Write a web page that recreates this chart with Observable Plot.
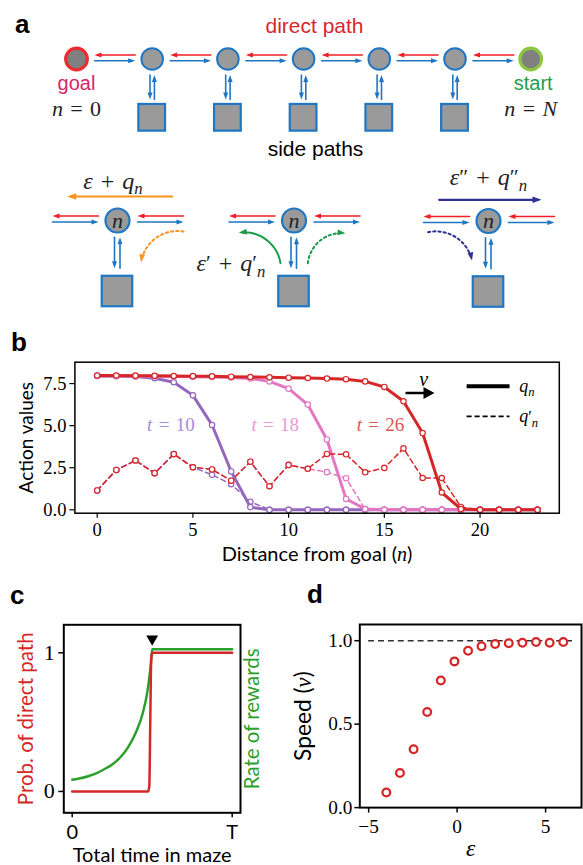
<!DOCTYPE html>
<html><head><meta charset="utf-8">
<script src="https://cdn.jsdelivr.net/npm/d3@7"></script>
<script src="https://cdn.jsdelivr.net/npm/@observablehq/plot@0.6"></script>
<style>
html,body{margin:0;padding:0;background:#fff;overflow:hidden;}
#root{position:relative;width:583px;height:865px;overflow:hidden;background:#fff;}
.panel{position:absolute;}
.plabel{position:absolute;font:bold 26px "Liberation Sans",Arial,sans-serif;line-height:26px;color:#000;}
</style></head><body><div id="root"></div>
<script>
// ================= DATA =================
// Panel a: maze schematic
const chainNodes = ["goal", "s1", "s2", "s3", "s4", "s5", "start"];
const sideNodes = ["s1", "s2", "s3", "s4", "s5"];
const endLabels = [{node: "goal", name: "goal", eq: "$n = 0$"}, {node: "start", name: "start", eq: "$n = N$"}];
const motifNames = ["explore", "return", "leave"];
const motifLabels = ["$ε + q_n$", "$ε^′ + q^′_n$", "$ε^″ + q^″_n$"];

// Panel b: action values vs distance from goal
const distance = [0,1,2,3,4,5,6,7,8,9,10,11,12,13,14,15,16,17,18,19,20,21,22,23];
const qT10  = [7.95,7.94,7.92,7.82,7.58,6.8,5.04,2.28,0.16,0,0,0,0,0,0,0,0,0,0,0,0,0,0,0];
const qT18  = [7.96,7.95,7.94,7.93,7.92,7.91,7.89,7.86,7.8,7.63,7.2,6.25,4.18,0.65,0.05,0,0,0,0,0,0,0,0,0];
const qT26  = [7.98,7.98,7.97,7.96,7.95,7.94,7.93,7.91,7.89,7.87,7.85,7.83,7.8,7.76,7.63,7.3,6.45,4.56,1.03,0.05,0,0,0,0];
const qpT10 = [1.15,2.37,2.93,2.18,3.31,2.53,2.08,1.52,0.48,0,0,0,0,0,0,0,0,0,0,0,0,0,0,0];
const qpT18 = [1.15,2.37,2.93,2.18,3.31,2.53,2.4,1.73,2.86,1.4,2.67,2.44,2.24,1.88,0.04,0,0,0,0,0,0,0,0,0];
const qpT26 = [1.15,2.37,2.93,2.18,3.31,2.53,2.4,1.73,2.86,1.4,2.67,2.44,3.32,3.3,2.23,2.49,3.65,1.89,1.89,0.17,0,0,0,0];
const timeLabels = ["$t = 10$", "$t = 18$", "$t = 26$"];
const xTicksB = [0, 5, 10, 15, 20];
const yTicksB = [0, 2.5, 5, 7.5];

// Panel c: probability of direct path / rate of rewards over time
const probTime = [0, 0.475, 0.482, 0.488, 0.494, 0.5, 1.0];
const probDirect = [0, 0, 0.04, 0.5, 0.96, 1.0, 1.0];
const rateTime = [0, 0.05, 0.1, 0.15, 0.2, 0.25, 0.3, 0.35, 0.4, 0.44, 0.47, 0.485, 0.495, 0.5, 1.0];
const rewardRate = [0.085, 0.095, 0.11, 0.13, 0.16, 0.195, 0.245, 0.32, 0.43, 0.56, 0.72, 0.85, 0.96, 1.025, 1.025];
const switchTime = [0.5];
const xTicksC = [0, 1];
const xTickLabelsC = ["0", "T"];
const yTicksC = [0, 1];

// Panel d: speed vs epsilon
const epsilon = [-4, -3.23, -2.46, -1.69, -0.92, -0.15, 0.62, 1.38, 2.15, 2.92, 3.69, 4.46, 5.23, 6.0];
const speed = [0.091, 0.207, 0.35, 0.573, 0.761, 0.876, 0.94, 0.967, 0.98, 0.985, 0.988, 0.992, 0.988, 0.992];
const xTicksD = [-5, 0, 5];
const yTicksD = [0, 0.5, 1];

// ================= STYLE / HELPERS =================
const SERIF = '"Liberation Serif","DejaVu Serif",serif';
const SANS = 'Lato,"Open Sans",sans-serif';
const ARIAL = '"Liberation Sans",Arial,sans-serif';
const BLUE = "#1f77c4", RED_A = "#ee1f26";
const root = document.getElementById("root");
function place(node, left, top) {
  const d = document.createElement("div");
  d.className = "panel"; d.style.left = left + "px"; d.style.top = top + "px";
  d.appendChild(node); root.appendChild(d); return node;
}
function letter(ch, left, baseline) {
  const d = document.createElement("div");
  d.className = "plabel"; d.textContent = ch;
  d.style.left = left + "px"; d.style.top = (baseline - 22) + "px";
  root.appendChild(d);
}
function mathSegs(s) {
  const out = [];
  for (let i = 0; i < s.length;) {
    const c = s[i];
    if (c === "^") { const sup = s[i + 1]; i += 2; let sub = null; if (s[i] === "_") { sub = s[i + 1]; i += 2; } out.push({kind: "sup", t: sup, sub}); }
    else if (c === "_") { out.push({kind: "sub", t: s[i + 1]}); i += 2; }
    else { out.push({kind: "base", t: c === " " ? "\u2004" : c}); i++; }
  }
  return out;
}
function richAll(svg) {
  svg.querySelectorAll("text").forEach(el => {
    const raw = el.textContent;
    if (!raw.includes("$")) return;
    const fs = parseFloat(getComputedStyle(el).fontSize);
    el.textContent = "";
    let cur = 0;
    const add = (txt, attrs, off) => {
      const ts = document.createElementNS("http://www.w3.org/2000/svg", "tspan");
      ts.textContent = txt;
      for (const [k, v] of Object.entries(attrs)) if (v != null) ts.setAttribute(k, v);
      if (Math.abs(off - cur) > 1e-6) { ts.setAttribute("dy", (off - cur).toFixed(2)); cur = off; }
      el.appendChild(ts);
    };
    raw.split("$").forEach((part, k) => {
      if (!part) return;
      if (k % 2 === 0) { add(part, {}, 0); return; }
      for (const g of mathSegs(part)) {
        const st = /[A-Za-z\u03b5]/.test(g.t) ? "italic" : "normal";
        const base = {"font-family": SERIF, "font-style": st};
        if (g.kind === "base") add(g.t, base, 0);
        else if (g.kind === "sub") add(g.t, {...base, "font-size": (fs * 0.7).toFixed(2)}, fs * 0.22);
        else {
          const prime = /[\u2032\u2033]/.test(g.t);
          add(g.t, {...base, "font-style": "normal", "font-size": (fs * (prime ? 0.9 : 0.7)).toFixed(2)}, prime ? -fs * 0.02 : -fs * 0.38);
          if (g.sub) {
            const sst = /[A-Za-z]/.test(g.sub) ? "italic" : "normal";
            add(g.sub, {"font-family": SERIF, "font-style": sst, "font-size": (fs * 0.7).toFixed(2)}, fs * 0.25);
          }
        }
      }
    });
  });
}
const headSym = ratio => ({draw(ctx, size) {
  const L = Math.sqrt(size / Math.PI) * 2, w = L * ratio;
  ctx.moveTo(0, 0); ctx.lineTo(w, L); ctx.lineTo(-w, L); ctx.closePath();
}});
const STYLE = {background: "transparent", overflow: "visible", color: "black"};

// ================= PANEL A =================
const LA = {x0: 76, dx: 75.7, y: 58.5, r: 10.8, sqY: 117.3, sq: 26.7};
const MO = [{cx: 117, cy: 220}, {cx: 293.5, cy: 220}, {cx: 488, cy: 220.5}];
const MR = 12, MSQ = 30.5, MSQ_DY = 71;
const nodeX = id => LA.x0 + chainNodes.indexOf(id) * LA.dx;

const arrows = [];
function arr(x1, y1, x2, y2, color, o = {}) {
  arrows.push({x1, y1, x2, y2, color, w: o.w ?? 1.6, bend: o.bend ?? 0, dash: o.dash ?? false, hl: o.hl ?? 7});
}
chainNodes.slice(0, -1).forEach((id, i) => {
  const a = nodeX(id), b = nodeX(chainNodes[i + 1]);
  arr(b - 17, LA.y - 4, a + 18, LA.y - 4, RED_A);
  arr(a + 18, LA.y + 1.8, b - 17, LA.y + 1.8, BLUE);
});
sideNodes.forEach(id => {
  const x = nodeX(id), top = LA.y + 16, bot = LA.sqY - LA.sq / 2 - 5;
  arr(x - 2.2, top, x - 2.2, bot, BLUE);
  arr(x + 2.2, bot, x + 2.2, top, BLUE);
});
motifNames.forEach((m, k) => {
  const {cx, cy} = MO[k];
  arr(cx - 19, cy - 4.5, cx - 65, cy - 4.5, RED_A);
  arr(cx - 65, cy + 1.5, cx - 19, cy + 1.5, BLUE);
  arr(cx + 66, cy - 4.5, cx + 20, cy - 4.5, RED_A);
  arr(cx + 20, cy + 1.5, cx + 66, cy + 1.5, BLUE);
  const top = cy + 16.7, bot = cy + MSQ_DY - MSQ / 2 - 8;
  arr(cx - 3, top, cx - 3, bot, BLUE);
  arr(cx + 2.5, bot, cx + 2.5, top, BLUE);
  if (m === "explore") {
    arr(cx + 54.7, cy - 24, cx - 50.3, cy - 24, "#f7941d", {w: 2.2, hl: 9});
    arr(cx + 66, cy + 11, cx + 23.5, cy + 41.7, "#f7941d", {w: 2, bend: -45, dash: true, hl: 8});
  } else if (m === "return") {
    arr(cx - 13.5, cy + 42.7, cx - 55.2, cy + 12.3, "#1b9a48", {w: 2, bend: -45, hl: 8});
    arr(cx + 13.8, cy + 42.7, cx + 51.5, cy + 12.7, "#1b9a48", {w: 2, bend: 45, dash: true, hl: 8});
  } else {
    arr(cx - 49.3, cy - 21.2, cx + 53, cy - 21.2, "#2e3192", {w: 2.2, hl: 9});
    arr(cx - 60.4, cy + 11.2, cx - 16.5, cy + 39.5, "#2e3192", {w: 2, bend: 45, dash: true, hl: 8});
  }
});
const heads = arrows.map(a => ({x: a.x2, y: a.y2, color: a.color, r: a.hl / 2,
  rot: Math.atan2(a.y2 - a.y1, a.x2 - a.x1) * 180 / Math.PI + a.bend + 90}));
const arrowGroups = d3.groups(arrows, a => a.bend + "|" + a.dash);

const circles = [
  ...chainNodes.map(id => ({x: nodeX(id), y: LA.y, r: LA.r,
    fill: (id === "goal" || id === "start") ? "#808080" : "#9a9a9a",
    stroke: id === "goal" ? "#ee2b2f" : id === "start" ? "#8dc63f" : BLUE,
    sw: (id === "goal" || id === "start") ? 3.2 : 2})),
  ...MO.map(({cx, cy}) => ({x: cx, y: cy, r: MR, fill: "#9a9a9a", stroke: BLUE, sw: 2.2}))
];
const squares = [
  ...sideNodes.map(id => ({x1: nodeX(id) - LA.sq / 2, x2: nodeX(id) + LA.sq / 2, y1: LA.sqY - LA.sq / 2, y2: LA.sqY + LA.sq / 2})),
  ...MO.map(({cx, cy}) => ({x1: cx - MSQ / 2, x2: cx + MSQ / 2, y1: cy + MSQ_DY - MSQ / 2, y2: cy + MSQ_DY + MSQ / 2}))
];
const sansTexts = [
  {t: "direct path", x: 314, y: 32.3, fill: "#d7262e", fs: 21},
  {t: "side paths", x: 315, y: 155, fill: "#000", fs: 21},
  ...endLabels.map(e => ({t: e.name, x: nodeX(e.node) + (e.node === "start" ? 2.5 : 0), y: 89.3,
    fill: e.node === "goal" ? "#d4246b" : "#1f9e4b", fs: 20}))
];
const motifTextPos = [{dx: -4.5, y: 188.3}, {dx: -63, y: 270}, {dx: 0, y: 184}];
const eqTexts = endLabels.map(e => ({t: e.eq, x: nodeX(e.node), y: 115}));
const motifTexts = motifLabels.map((t, k) => ({t, x: MO[k].cx + motifTextPos[k].dx, y: motifTextPos[k].y}));
const nodeLetters = MO.map(({cx, cy}) => ({t: "$n$", x: cx, y: cy}));

const figA = Plot.plot({
  width: 583, height: 320, margin: 0,
  x: {domain: [0, 583], range: [0, 583], axis: null},
  y: {domain: [0, 320], range: [0, 320], axis: null},
  r: {type: "identity"},
  style: {...STYLE, fontFamily: ARIAL},
  marks: [
    ...arrowGroups.map(([key, rows]) => Plot.arrow(rows, {
      x1: "x1", y1: "y1", x2: "x2", y2: "y2", stroke: "color", strokeWidth: "w",
      bend: rows[0].bend, headLength: 0, insetEnd: 3.5,
      strokeDasharray: rows[0].dash ? "2.2,3" : undefined
    })),
    Plot.dot(heads, {x: "x", y: "y", r: "r", rotate: "rot", symbol: headSym(0.36), fill: "color", stroke: null}),
    Plot.rect(squares, {x1: "x1", x2: "x2", y1: "y1", y2: "y2", fill: "#9a9a9a", stroke: BLUE, strokeWidth: 2.2}),
    Plot.dot(circles, {x: "x", y: "y", r: "r", fill: "fill", stroke: "stroke", strokeWidth: "sw"}),
    Plot.text(sansTexts, {x: "x", y: "y", text: "t", fill: "fill", fontSize: "fs", fontFamily: ARIAL, lineAnchor: "bottom"}),
    Plot.text(eqTexts, {x: "x", y: "y", text: "t", fill: "#222", fontSize: 22, fontFamily: SERIF, lineAnchor: "bottom"}),
    Plot.text(motifTexts, {x: "x", y: "y", text: "t", fill: "#222", fontSize: 24, fontFamily: SERIF, lineAnchor: "bottom"}),
    Plot.text(nodeLetters, {x: "x", y: "y", text: "t", fill: "#222", fontSize: 22, fontFamily: SERIF, lineAnchor: "middle"})
  ]
});
place(figA, 0, 0); richAll(figA);

// ================= PANEL B =================
const series = [
  {q: qT10, qp: qpT10, color: "#9467bd", label: "#ab8ad6"},
  {q: qT18, qp: qpT18, color: "#e377c2", label: "#eb98d5"},
  {q: qT26, qp: qpT26, color: "#d62728", label: "#e05555"}
];
const labelPosB = [{x: 3.85, y: 5.05}, {x: 9.3, y: 5.05}, {x: 14.8, y: 5.05}];
const seriesMarks = [];
series.forEach(s => {
  const dash = distance.map((n, i) => ({n, v: s.qp[i]}));
  const solid = distance.map((n, i) => ({n, v: s.q[i]}));
  seriesMarks.push(
    Plot.line(dash, {x: "n", y: "v", stroke: s.color, strokeWidth: 1.5, strokeDasharray: "5,3.5"}),
    Plot.dot(dash, {x: "n", y: "v", r: 2.7, fill: "white", stroke: s.color, strokeWidth: 1.2}),
    Plot.line(solid, {x: "n", y: "v", stroke: s.color, strokeWidth: 3}),
    Plot.dot(solid, {x: "n", y: "v", r: 2.7, fill: "white", stroke: s.color, strokeWidth: 1.2})
  );
});
const LEG = {x1: 19.3, x2: 21.54, xt: 22.05, ySolid: 7.34, yDash: 5.55, vx1: 16.16, vx2: 17.62, vy: 6.94, vlx: 17.06, vly: 7.72};
const figB = Plot.plot({
  width: 583, height: 260,
  marginLeft: 74.4, marginRight: 24.2, marginTop: 31.7, marginBottom: 77.3,
  x: {domain: [-1.165, 24.14]},
  y: {domain: [-0.2, 8.77]},
  style: {...STYLE, fontFamily: SERIF},
  marks: [
    Plot.axisX({ticks: xTicksB, tickSize: 5, tickPadding: 5, fontSize: 18.5, fontFamily: SERIF, label: null, strokeWidth: 1.2}),
    Plot.axisY({ticks: yTicksB, tickFormat: d3.format(".1f"), tickSize: 5, tickPadding: 3.5, fontSize: 18.5, fontFamily: SERIF, label: null, strokeWidth: 1.2}),
    ...seriesMarks,
    Plot.frame({stroke: "black", strokeWidth: 1.5}),
    Plot.text(timeLabels.map((t, k) => ({t, ...labelPosB[k], c: series[k].label})),
      {x: "x", y: "y", text: "t", fill: "c", fontSize: 19, lineAnchor: "middle"}),
    Plot.link([0], {x1: LEG.x1, x2: LEG.x2, y1: LEG.ySolid, y2: LEG.ySolid, stroke: "black", strokeWidth: 4}),
    Plot.link([0], {x1: LEG.x1, x2: LEG.x2, y1: LEG.yDash, y2: LEG.yDash, stroke: "black", strokeWidth: 1.8, strokeDasharray: "5,3"}),
    Plot.text(["$q_n$", "$q^′_n$"], {x: LEG.xt, y: (d, i) => i === 0 ? LEG.ySolid : LEG.yDash, text: d => d, textAnchor: "start", lineAnchor: "middle", fontSize: 18}),
    Plot.arrow([0], {x1: LEG.vx1, x2: LEG.vx2, y1: LEG.vy, y2: LEG.vy, stroke: "black", strokeWidth: 2.5, headLength: 0, insetEnd: 5}),
    Plot.dot([0], {x: LEG.vx2, y: LEG.vy, r: 5.5, rotate: 90, symbol: headSym(0.55), fill: "black", stroke: null}),
    Plot.text(["$v$"], {x: LEG.vlx, y: LEG.vly, text: d => d, lineAnchor: "middle", fontSize: 20}),
    Plot.text(["Action values"], {frameAnchor: "left", dx: -47.5, rotate: -90, textAnchor: "middle", lineAnchor: "middle", fontFamily: SANS, fontSize: 19}),
    Plot.text(["Distance from goal ($n$)"], {frameAnchor: "bottom", dy: 47.3, textAnchor: "middle", lineAnchor: "bottom", fontFamily: SANS, fontSize: 20})
  ]
});
place(figB, 0, 330); richAll(figB);

// ================= PANEL C =================
const probRows = probTime.map((t, i) => ({t, v: probDirect[i]}));
const rateRows = rateTime.map((t, i) => ({t, v: rewardRate[i]}));
const MARK_LEVEL = 1.1;
const figC = Plot.plot({
  width: 290, height: 270,
  marginLeft: 63.3, marginRight: 50, marginTop: 29.3, marginBottom: 52.7,
  x: {domain: [-0.0525, 1.052]},
  y: {domain: [-0.154, 1.202]},
  style: {...STYLE, fontFamily: SERIF},
  marks: [
    Plot.axisX({ticks: xTicksC, tickFormat: d => xTickLabelsC[xTicksC.indexOf(d)], tickSize: 5, tickPadding: 7, fontSize: 20, fontFamily: SANS, label: null, strokeWidth: 1.5}),
    Plot.axisY({ticks: yTicksC, tickFormat: d => String(d), tickSize: 5, tickPadding: 4, fontSize: 22, fontFamily: SERIF, label: null, strokeWidth: 1.5}),
    Plot.line(rateRows, {x: "t", y: "v", stroke: "#2ca02c", strokeWidth: 2.5, curve: "monotone-x"}),
    Plot.line(probRows, {x: "t", y: "v", stroke: "#d62728", strokeWidth: 2.5, curve: "monotone-x"}),
    Plot.dot(switchTime, {x: d => d, y: MARK_LEVEL, symbol: "triangle", rotate: 180, r: 4.4, fill: "black", stroke: null}),
    Plot.frame({stroke: "black", strokeWidth: 2}),
    Plot.text(["Prob. of direct path"], {frameAnchor: "left", dx: -37.6, rotate: -90, textAnchor: "middle", lineAnchor: "middle", fontFamily: SANS, fontSize: 20.5, fill: "#d62728"}),
    Plot.text(["Rate of rewards"], {frameAnchor: "right", dx: 12.3, rotate: -90, textAnchor: "middle", lineAnchor: "middle", fontFamily: SANS, fontSize: 20.5, fill: "#2ca02c"}),
    Plot.text(["Total time in maze"], {frameAnchor: "bottom", dy: 48.7, textAnchor: "middle", lineAnchor: "bottom", fontFamily: SANS, fontSize: 20})
  ]
});
place(figC, 0, 595); richAll(figC);

// ================= PANEL D =================
const speedRows = epsilon.map((e, i) => ({e, v: speed[i]}));
const figD = Plot.plot({
  width: 296, height: 270,
  marginLeft: 70, marginRight: 2, marginTop: 29.3, marginBottom: 55.7,
  x: {domain: [-5.5, 7.03]},
  y: {domain: [0, 1.097]},
  style: {...STYLE, fontFamily: SERIF},
  marks: [
    Plot.axisX({ticks: xTicksD, tickFormat: d => d < 0 ? "\u2212" + (-d) : String(d), tickSize: 5.5, tickPadding: 6.5, fontSize: 19.5, fontFamily: SERIF, label: null, strokeWidth: 1.5}),
    Plot.axisY({ticks: yTicksD, tickFormat: d3.format(".1f"), tickSize: 5, tickPadding: 2.5, fontSize: 19.5, fontFamily: SERIF, label: null, strokeWidth: 1.5}),
    Plot.ruleY([1], {x1: -5, x2: 6.53, stroke: "#333", strokeWidth: 1.5, strokeDasharray: "6,4"}),
    Plot.dot(speedRows, {x: "e", y: "v", r: 3.9, stroke: "#d62728", strokeWidth: 2.3, fill: "white"}),
    Plot.frame({stroke: "black", strokeWidth: 2}),
    Plot.text(["Speed ($v$)"], {frameAnchor: "left", dx: -56.7, rotate: -90, textAnchor: "middle", lineAnchor: "middle", fontFamily: SANS, fontSize: 23}),
    Plot.text(["$ε$"], {frameAnchor: "bottom", dy: 48.7, textAnchor: "middle", lineAnchor: "bottom", fontSize: 24})
  ]
});
place(figD, 290, 595); richAll(figD);

// panel letters
letter("a", 15, 33);
letter("b", 11, 351);
letter("c", 10, 604);
letter("d", 307, 603);
</script></body></html>
